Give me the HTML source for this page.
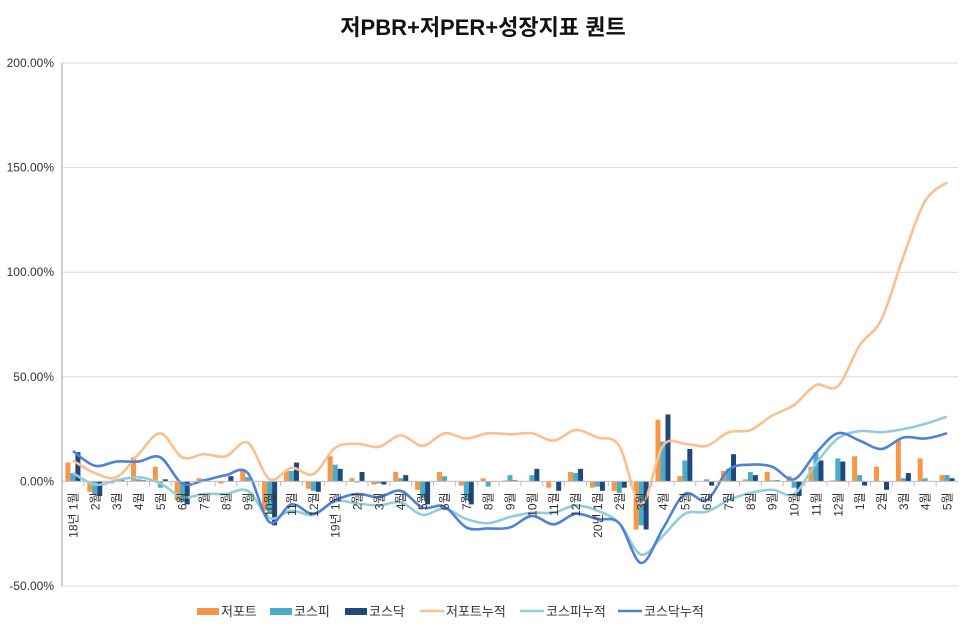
<!DOCTYPE html>
<html><head><meta charset="utf-8"><style>
body{margin:0;background:#fff;font-family:"Liberation Sans","Noto Sans CJK KR",sans-serif;}
svg text{font-family:"Liberation Sans","Noto Sans CJK KR",sans-serif;}
</style></head><body>
<svg id="chart" width="966" height="630" viewBox="0 0 966 630">
<text x="483" y="35" text-anchor="middle" font-size="22" font-weight="bold" fill="#111">저PBR+저PER+성장지표 퀀트</text>
<g id="grid"></g><g id="bars"></g><g id="lines"></g><g id="axes"></g>
<g id="legend"></g>
</svg>
<script>
const categories=["18년 1월","2월","3월","4월","5월","6월","7월","8월","9월","10월","11월","12월","19년 1월","2월","3월","4월","5월","6월","7월","8월","9월","10월","11월","12월","20년 1월","2월","3월","4월","5월","6월","7월","8월","9월","10월","11월","12월","1월","2월","3월","4월","5월"];
const lowPbr=[9,-5,-1,11.5,7,-9,1.5,-1,5,-14,5,-3.5,12,1.5,-1.5,4.5,-4,4.5,-2,1.5,0.5,0,-3,4.5,-3,-4.5,-23,29.5,2.5,0,5,1,4.5,2.5,7,0.5,12,7,19.5,11,3];
const kospi=[4,-6,0.5,1,-3,-10,1,0,2,-15,5,-4.5,8,-0.5,-1,1.5,-8,2.5,-9,-2.5,3,3,0,4,-2.5,-5.5,-21,19,10,1,6,4.5,0.5,-3,14,11,3,0,1.5,1.5,3];
const kosdaq=[14,-7,1,0.5,1,-11,0,2.5,0,-21,9,-5,6,4.5,-1.5,3,-11,0,-11,0,0.5,6,-4.5,6,-4.5,-3,-23,32,15.5,-2,13,3,0.5,-7,10,9.5,-2,-4,4,0,1.5];
const lowPbrCum=[10,4,2,13,23,11.5,13,12,18.5,1,6.5,3.5,16,18,16.5,22,17,23,20.5,23,22.5,23,19.5,24.5,21,17,-11,17,18,17,23.5,24.5,31.5,36.5,46,45.5,65,77.5,107.5,134,143];
const kospiCum=[4,-1.5,0.5,2,-1,-7.5,-6,-6,-4.5,-17.5,-14,-16,-9.5,-10.5,-11.5,-10,-16,-13,-18,-20,-17,-15,-15,-11.5,-14,-20,-35,-26,-15.5,-14.5,-9,-5.5,-4,-6,8.5,20.5,24,23.5,25,27.5,31];
const kosdaqCum=[14.5,7.5,9.5,9.5,11.5,-1,0.5,3,4,-19.5,-11,-15.5,-9,-6,-7.5,-4.5,-12.5,-12,-22,-22.5,-22,-16.5,-20.5,-15.5,-18,-20,-39,-22.5,-6,-9,5.5,8,7,1,13.5,23,19.5,15.5,21,20.5,23];
const yTicks=[-50,0,50,100,150,200];
const yTickLabels=["-50.00%","0.00%","50.00%","100.00%","150.00%","200.00%"];

const NS="http://www.w3.org/2000/svg";
const L=62,R=958,T=63,B=586,yMin=-50,yMax=200;
const band=(R-L)/categories.length;
function y(v){return B-(v-yMin)/(yMax-yMin)*(B-T);}
function xc(i){return L+(i+0.5)*band;}
function mk(tag,attrs,parent){const e=document.createElementNS(NS,tag);for(const k in attrs)e.setAttribute(k,attrs[k]);parent.appendChild(e);return e;}
const grid=document.getElementById('grid'),bars=document.getElementById('bars'),lines=document.getElementById('lines'),axes=document.getElementById('axes'),legend=document.getElementById('legend');
yTicks.forEach((t,i)=>{
  const g=mk('line',{x1:L,x2:R,y1:y(t),y2:y(t),stroke:'#d9d9d9','stroke-width':1},grid);
  
  
  const tx=mk('text',{x:L-8,y:y(t)+4,'text-anchor':'end','font-size':12,fill:'#333'},axes);
  tx.textContent=yTickLabels[i];
  
  
});
const ax=mk('line',{x1:L,x2:L,y1:T,y2:B,stroke:'#bfbfbf','stroke-width':1.5},axes);


const series=[[lowPbr,'#f79646'],[kospi,'#4bacc6'],[kosdaq,'#1f497d']];
const bw=5;
series.forEach((s,si)=>{
  s[0].forEach((v,i)=>{
    const x=xc(i)-1.5*bw+si*bw;
    const r=mk('rect',{x:x,y:Math.min(y(v),y(0)),width:bw,height:Math.abs(y(v)-y(0)),fill:s[1]},bars);
    
    
  });
});
const base=mk('line',{x1:L,x2:R,y1:y(0),y2:y(0),stroke:'#bfbfbf','stroke-width':1},axes);


categories.forEach((c,i)=>{
  const tk=mk('line',{x1:L+i*band,x2:L+i*band,y1:y(0),y2:y(0)+5,stroke:'#bfbfbf'},axes);
  
  
  const tx=mk('text',{transform:`translate(${xc(i)+4.5},${y(0)+11}) rotate(-90)`,'text-anchor':'end','font-size':12,fill:'#333'},axes);
  tx.textContent=c;
  
  
});
function smooth(arr){
  const p=arr.map((v,i)=>[xc(i),y(v)]);
  let d=`M${p[0][0]},${p[0][1]}`;
  for(let i=0;i<p.length-1;i++){
    const p0=p[i-1]||p[i],p1=p[i],p2=p[i+1],p3=p[i+2]||p2;
    const c1=[p1[0]+(p2[0]-p0[0])/6,p1[1]+(p2[1]-p0[1])/6];
    const c2=[p2[0]-(p3[0]-p1[0])/6,p2[1]-(p3[1]-p1[1])/6];
    d+=` C${c1[0]},${c1[1]} ${c2[0]},${c2[1]} ${p2[0]},${p2[1]}`;
  }
  return d;
}
const lineSeries=[[lowPbrCum,'#fac090','line-low-pbr-cumulative'],[kospiCum,'#92cddc','line-kospi-cumulative'],[kosdaqCum,'#4f81d9','line-kosdaq-cumulative']];
lineSeries.forEach(s=>{
  const p=mk('path',{d:smooth(s[0]),fill:'none',stroke:s[1],'stroke-width':2.6},lines);
  
  
});
const leg=[['저포트','#f79646',0,197],['코스피','#4bacc6',0,270],['코스닥','#1f497d',0,345],['저포트누적','#fac090',1,420],['코스피누적','#92cddc',1,520],['코스닥누적','#4f81d9',1,618]];
leg.forEach(l=>{
  const g=mk('g',{},legend);
  
  
  if(l[2]) mk('line',{x1:l[3],x2:l[3]+24,y1:611,y2:611,stroke:l[1],'stroke-width':2.5},g);
  else mk('rect',{x:l[3],y:608,width:22,height:7,fill:l[1]},g);
  const t=mk('text',{x:l[3]+(l[2]?26:24),y:616,'font-size':13,fill:'#333'},g);
  t.textContent=l[0];
});
</script>
</body></html>
